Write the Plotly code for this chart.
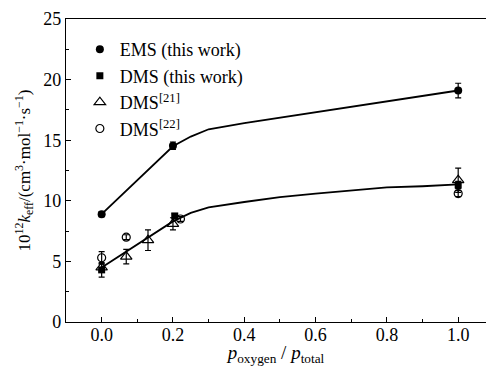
import plotly.graph_objects as go

# --- data ---
ems_x = [0.0, 0.2, 1.0]
ems_y = [8.9, 14.55, 19.1]
ems_err = [0.2, 0.3, 0.6]

dms_x = [0.0, 0.205, 1.0]
dms_y = [4.3, 8.75, 11.3]
dms_err = [0.6, 0.2, 0.3]

dms21_x = [0.0, 0.069, 0.13, 0.2, 1.0]
dms21_y = [4.5, 5.4, 6.75, 8.1, 11.7]
dms21_err = [0.3, 0.6, 0.85, 0.5, 1.0]

dms22_x = [0.0, 0.069, 0.221, 1.0]
dms22_y = [5.3, 7.0, 8.5, 10.6]
dms22_err = [0.5, 0.2, 0.2, 0.25]

fit_x = [0.0, 0.1, 0.2, 0.25, 0.3, 0.4, 0.5, 0.6, 0.7, 0.8, 0.9, 1.0]
ems_fit = [8.9, 11.7, 14.5, 15.3, 15.9, 16.4, 16.85, 17.3, 17.75, 18.2, 18.65, 19.1]
dms_fit = [4.5, 6.4, 8.3, 9.0, 9.45, 9.9, 10.3, 10.6, 10.85, 11.1, 11.2, 11.35]

x_ticks = [0.0, 0.2, 0.4, 0.6, 0.8, 1.0]
y_ticks = [0, 5, 10, 15, 20, 25]

FONT = "Liberation Serif, Times New Roman, serif"
BLACK = "#000000"

fig = go.Figure()

fig.add_trace(go.Scatter(x=fit_x, y=ems_fit, mode="lines",
                         line=dict(color=BLACK, width=1.8), showlegend=False, hoverinfo="skip"))
fig.add_trace(go.Scatter(x=fit_x, y=dms_fit, mode="lines",
                         line=dict(color=BLACK, width=1.8), showlegend=False, hoverinfo="skip"))

def err(a):
    return dict(type="data", array=a, visible=True, color=BLACK, thickness=1.2, width=3)

fig.add_trace(go.Scatter(x=ems_x, y=ems_y, mode="markers", name="EMS (this work)",
                         marker=dict(symbol="circle", size=8, color=BLACK),
                         error_y=err(ems_err)))
fig.add_trace(go.Scatter(x=dms_x, y=dms_y, mode="markers", name="DMS (this work)",
                         marker=dict(symbol="square", size=7, color=BLACK),
                         error_y=err(dms_err)))
fig.add_trace(go.Scatter(x=dms21_x, y=dms21_y, mode="markers", name="DMS<sup>[21]</sup>",
                         marker=dict(symbol="triangle-up-open", size=10, color=BLACK,
                                     line=dict(width=1.2, color=BLACK)),
                         error_y=err(dms21_err)))
fig.add_trace(go.Scatter(x=dms22_x, y=dms22_y, mode="markers", name="DMS<sup>[22]</sup>",
                         marker=dict(symbol="circle-open", size=8, color=BLACK,
                                     line=dict(width=1.2, color=BLACK)),
                         error_y=err(dms22_err)))

fig.update_layout(
    width=486, height=366,
    margin=dict(l=66, r=0, t=19, b=44, autoexpand=False),
    paper_bgcolor="white", plot_bgcolor="white",
    font=dict(family=FONT, size=18, color=BLACK),
    legend=dict(x=0.033, y=0.96, xanchor="left", yanchor="top",
                bgcolor="rgba(0,0,0,0)", font=dict(size=18, family=FONT),
                itemwidth=30, tracegroupgap=0),
    xaxis=dict(range=[-0.1, 1.078], showgrid=False, zeroline=False,
               showline=True, linecolor=BLACK, linewidth=1.2, mirror=True,
               ticks="inside", ticklen=5, tickcolor=BLACK, tickwidth=1,
               tickvals=x_ticks, tickformat=".1f", ticklabelstandoff=-4,
               minor=dict(ticks="inside", ticklen=3, dtick=0.1, tickcolor=BLACK),
               title=dict(text="<i>p</i><sub>oxygen</sub> / <i>p</i><sub>total</sub>",
                          standoff=4, font=dict(size=19))),
    yaxis=dict(range=[0, 25], showgrid=False, zeroline=False,
               showline=True, linecolor=BLACK, linewidth=1.2,
               ticks="inside", ticklen=5, tickcolor=BLACK, tickwidth=1,
               tickvals=y_ticks,
               minor=dict(ticks="inside", ticklen=3, dtick=2.5, tickcolor=BLACK),
               title=dict(text="10<sup>12</sup><i>k</i><sub>eff</sub>/(cm<sup>3</sup>·mol<sup>−1</sup>·s<sup>−1</sup>)",
                          standoff=8, font=dict(size=17))),
)

fig.write_html("out.html", config={"displayModeBar": False},
               post_script="document.body.style.margin='0';")
